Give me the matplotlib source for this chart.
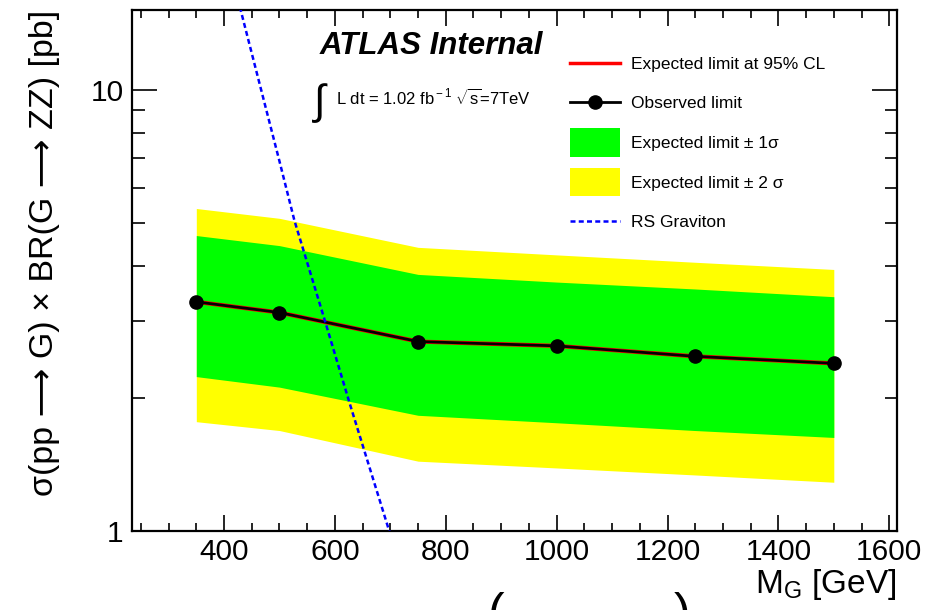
import numpy as np
import matplotlib
matplotlib.use('Agg')
import matplotlib.pyplot as plt
from matplotlib.ticker import MultipleLocator, LogLocator, FixedLocator, FuncFormatter, NullFormatter
from matplotlib.lines import Line2D
from matplotlib.patches import Patch
from matplotlib.legend_handler import HandlerLine2D

plt.rcParams['font.family'] = ['Liberation Sans', 'DejaVu Sans']
plt.rcParams['mathtext.fontset'] = 'custom'
plt.rcParams['mathtext.rm'] = 'Liberation Sans'
plt.rcParams['mathtext.it'] = 'Liberation Sans:italic'

# graviton masses [GeV] and limits [pb]
masses = [350, 500, 750, 1000, 1250, 1500]
observed = [3.31, 3.13, 2.69, 2.63, 2.49, 2.40]
expected = [3.31, 3.13, 2.69, 2.63, 2.49, 2.40]
exp_1s_up = [4.68, 4.44, 3.82, 3.67, 3.54, 3.40]
exp_1s_dn = [2.24, 2.12, 1.83, 1.76, 1.69, 1.63]
exp_2s_up = [5.39, 5.12, 4.40, 4.23, 4.07, 3.92]
exp_2s_dn = [1.77, 1.69, 1.44, 1.39, 1.34, 1.29]

# RS graviton cross section
rs_mass = [400, 430, 500, 527, 583, 626, 698, 750]
rs_xsec = [21.8, 15.2, 6.9, 5.06, 2.97, 1.96, 1.0, 0.62]


class LowerLine(HandlerLine2D):
    # put the line sample level with the middle of its label
    def create_artists(self, legend, orig_handle, xdescent, ydescent, width, height,
                       fontsize, trans):
        return super().create_artists(legend, orig_handle, xdescent, ydescent + 5.5,
                                      width, height, fontsize, trans)


fig = plt.figure(figsize=(9.43, 6.10), dpi=100)
ax = fig.add_axes([132 / 943, 1 - 531 / 610, (897 - 132) / 943, (531 - 10) / 610])

ax.fill_between(masses, exp_2s_dn, exp_2s_up, color='#ffff00', lw=0, zorder=1)
ax.fill_between(masses, exp_1s_dn, exp_1s_up, color='#00ff00', lw=0, zorder=2)
ax.plot(masses, expected, color='red', lw=3.0, zorder=3)
ax.plot(masses, observed, color='black', lw=2.0, marker='o', ms=9.5, zorder=4)
ax.plot(rs_mass, rs_xsec, color='blue', lw=1.8, ls=(0, (2, 1.3)), zorder=5)

ax.set_yscale('log')
ax.set_xlim(234, 1614)
ax.set_ylim(1, 15.2)

ax.xaxis.set_major_locator(MultipleLocator(200))
ax.xaxis.set_minor_locator(MultipleLocator(50))
ax.yaxis.set_major_locator(FixedLocator([1, 10]))
ax.yaxis.set_major_formatter(FuncFormatter(lambda v, p: '%g' % v))
ax.yaxis.set_minor_locator(LogLocator(base=10, subs=np.arange(2, 10)))
ax.yaxis.set_minor_formatter(NullFormatter())

ax.tick_params(axis='both', which='both', direction='in', top=True, right=True,
               width=1.2, labelsize=21.5, colors='black')
ax.tick_params(axis='x', which='major', length=11.5, pad=5)
ax.tick_params(axis='x', which='minor', length=5.5)
ax.tick_params(axis='y', which='major', length=18, pad=6)
ax.tick_params(axis='y', which='minor', length=9)
for sp in ax.spines.values():
    sp.set_linewidth(1.6)

ax.set_xlabel('M$_{\\rm G}$ [GeV]', fontsize=24, loc='right', labelpad=1)
ax.set_ylabel('σ(pp ⟶ G) × BR(G ⟶ ZZ) [pb]', fontsize=24.5,
              loc='top', labelpad=22)

fig.text(320 / 943, 1 - 54 / 610, 'ATLAS Internal', fontsize=22.5, fontweight='bold',
         fontstyle='italic')
fig.text(312 / 943, 1 - 114 / 610, r'$\int$', fontsize=30)
fig.text(336 / 943, 1 - 105 / 610, r'L dt = 1.02 fb$^{\rm -1}$ $\sqrt{\rm s}$=7TeV', fontsize=12)

handles = [
    Line2D([], [], color='red', lw=2.5),
    Line2D([], [], color='black', lw=2.0, marker='o', ms=9.5),
    Patch(facecolor='#00ff00', edgecolor='none'),
    Patch(facecolor='#ffff00', edgecolor='none'),
    Line2D([], [], color='blue', lw=1.8, ls=(0, (2, 1.3))),
]
labels = ['Expected limit at 95% CL', 'Observed limit', 'Expected limit ± 1σ',
          'Expected limit ± 2 σ', 'RS Graviton']
ax.legend(handles, labels, loc='upper left', bbox_to_anchor=(570 / 943, 1 - 49 / 610),
          bbox_transform=fig.transFigure, frameon=False, fontsize=12.5,
          handlelength=2.9, handleheight=2.15, handletextpad=0.6, labelspacing=0.64,
          borderpad=0, borderaxespad=0, handler_map={Line2D: LowerLine()})

# clipped parentheses of the caption below the plot
fig.text(488 / 943, 1 - 628 / 610, '(', fontsize=36)
fig.text(674 / 943, 1 - 628 / 610, ')', fontsize=36)

fig.savefig('out.png', dpi=100)
